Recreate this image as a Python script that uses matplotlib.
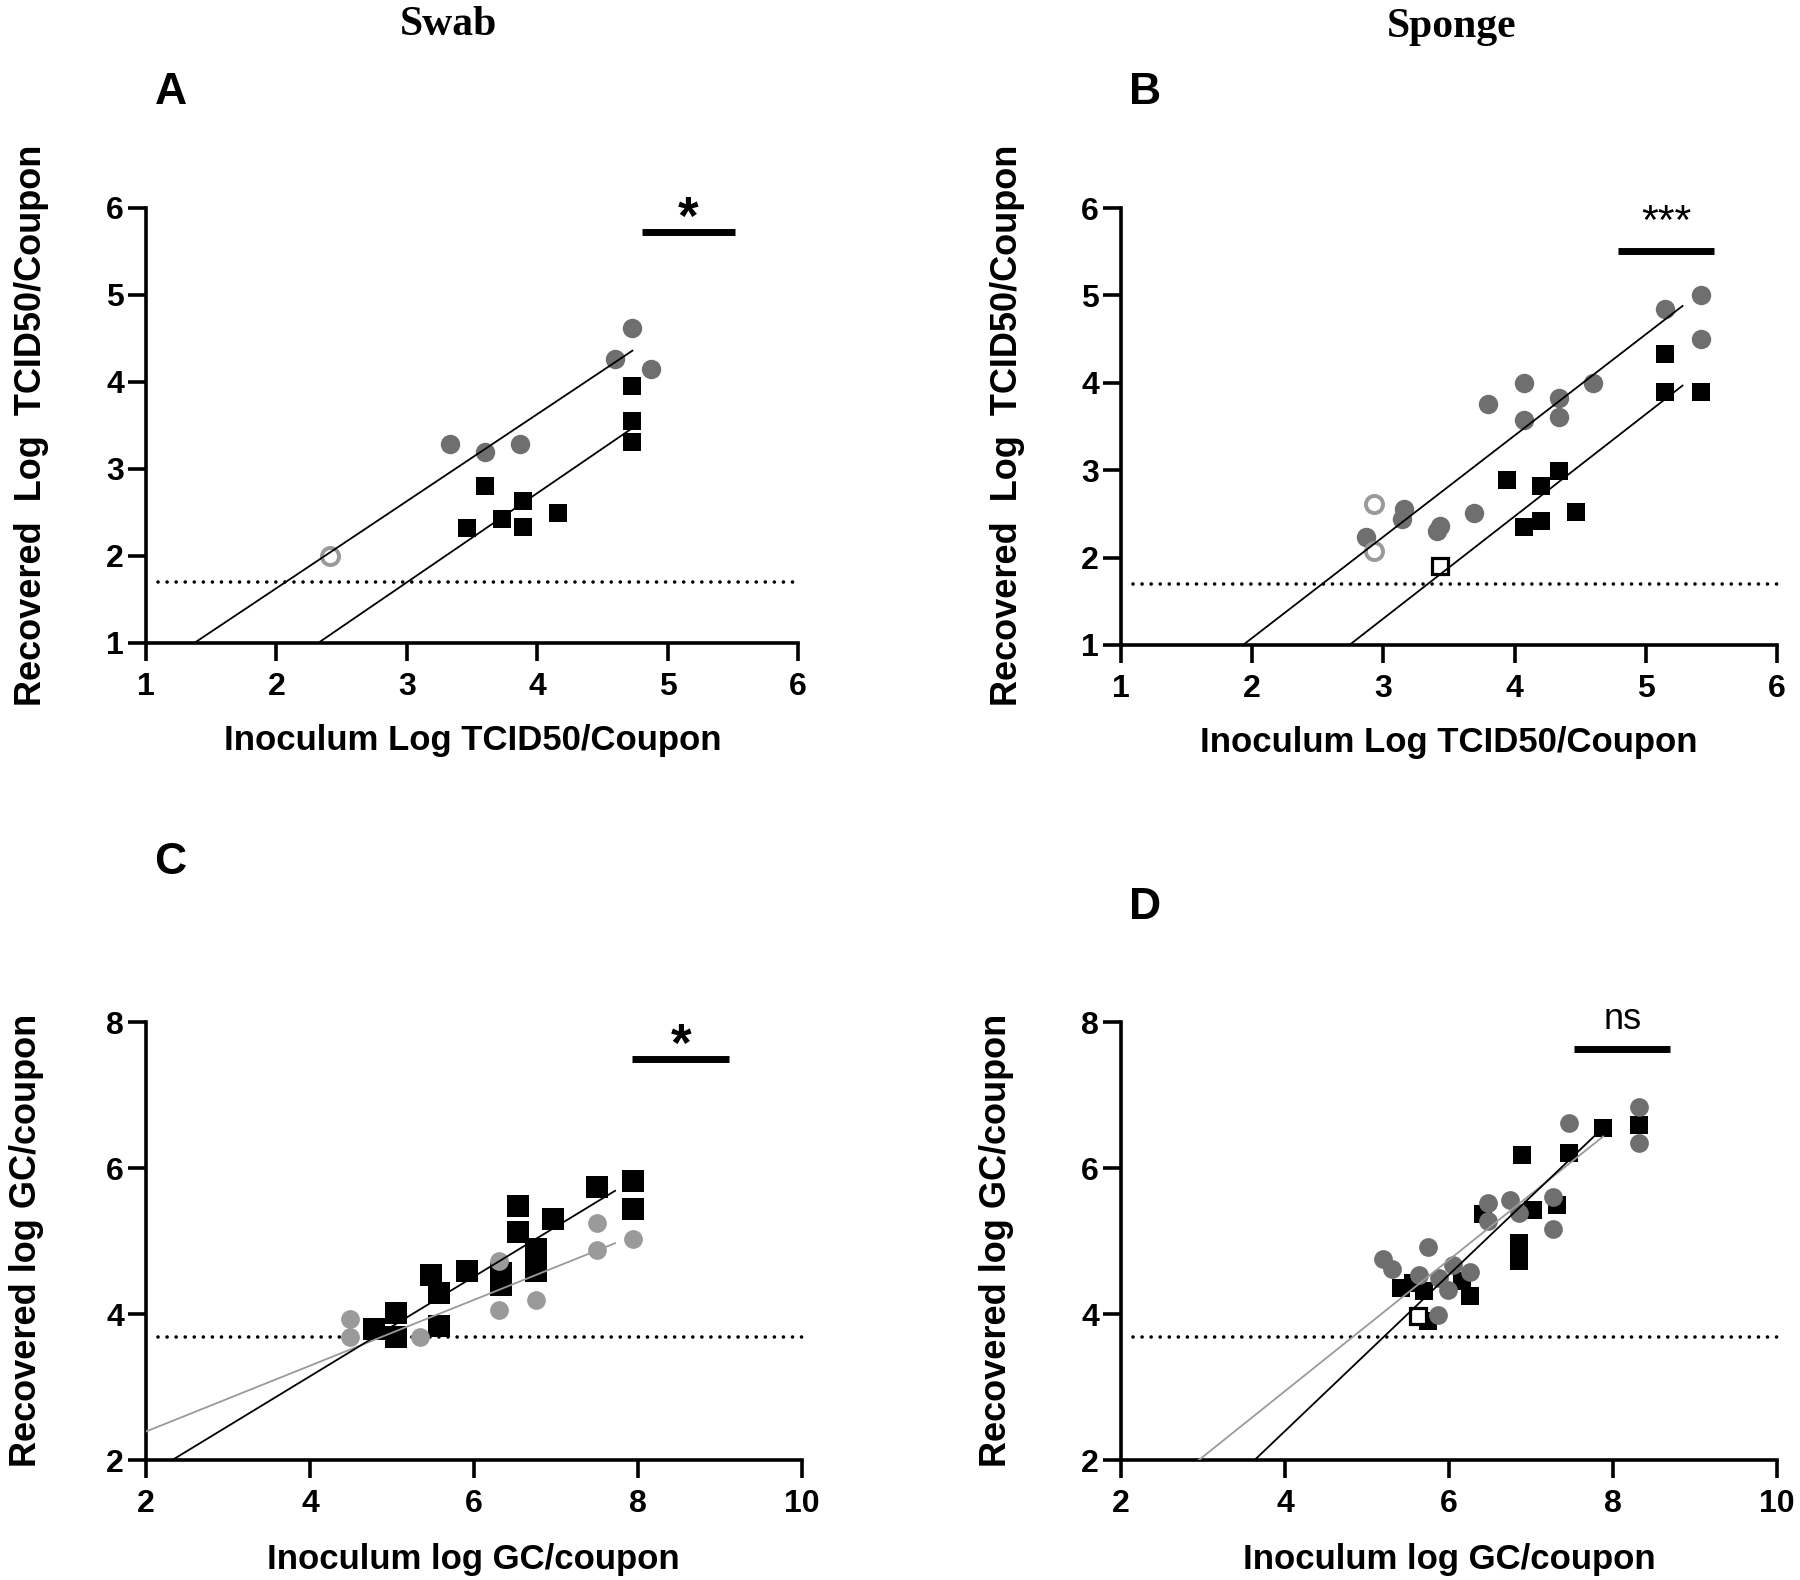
import matplotlib
matplotlib.use('Agg')
import matplotlib.pyplot as plt
import numpy as np

plt.rcParams['font.family'] = ['Liberation Sans', 'DejaVu Sans']
plt.rcParams['font.weight'] = 'bold'

# ---------------- data ----------------
# Panel A  (Swab, TCID50)
A_circle_x = [4.73, 4.60, 4.87, 3.33, 3.60, 3.87]
A_circle_y = [4.62, 4.26, 4.15, 3.29, 3.19, 3.29]
A_open_circle_x = [2.41]
A_open_circle_y = [2.00]
A_square_x = [4.73, 4.73, 4.73, 3.60, 3.89, 3.73, 3.89, 3.46, 4.16]
A_square_y = [3.95, 3.55, 3.31, 2.80, 2.63, 2.42, 2.33, 2.32, 2.49]
A_open_square_x = []
A_open_square_y = []

# Panel B  (Sponge, TCID50)
B_circle_x = [5.42, 5.15, 5.42, 4.07, 4.60, 3.80, 4.34, 4.07, 4.34, 3.16, 3.14, 3.69, 3.43, 3.41, 2.87]
B_circle_y = [5.00, 4.84, 4.50, 4.00, 4.00, 3.76, 3.83, 3.58, 3.61, 2.56, 2.44, 2.51, 2.36, 2.31, 2.23]
B_open_circle_x = [2.93, 2.93]
B_open_circle_y = [2.61, 2.07]
B_square_x = [5.15, 5.15, 5.42, 3.94, 4.34, 4.20, 4.47, 4.07, 4.20]
B_square_y = [4.33, 3.90, 3.90, 2.89, 2.99, 2.82, 2.52, 2.35, 2.42]
B_open_square_x = [3.43]
B_open_square_y = [1.90]

# Panel C  (Swab, GC)
C_circle_x = [7.50, 7.50, 7.94, 6.31, 6.31, 6.75, 4.49, 4.49, 5.34]
C_circle_y = [5.24, 4.88, 5.03, 4.72, 4.05, 4.19, 3.93, 3.68, 3.68]
C_square_x = [7.94, 7.94, 7.50, 6.54, 6.54, 6.96, 6.75, 6.75, 6.75, 6.33, 6.33, 5.91,
              5.48, 5.57, 5.57, 5.05, 5.05, 4.78]
C_square_y = [5.82, 5.44, 5.74, 5.48, 5.13, 5.30, 4.89, 4.75, 4.59, 4.56, 4.40, 4.59,
              4.54, 4.29, 3.83, 4.01, 3.69, 3.79]

# Panel D  (Sponge, GC)
D_circle_x = [8.32, 8.32, 7.46, 7.27, 7.27, 6.74, 6.85, 6.47, 6.47, 5.74, 5.19, 5.30,
              5.63, 6.05, 5.88, 6.26, 5.99, 5.86]
D_circle_y = [6.84, 6.34, 6.62, 5.60, 5.16, 5.56, 5.39, 5.52, 5.27, 4.92, 4.75, 4.61,
              4.54, 4.67, 4.50, 4.57, 4.33, 3.99]
D_square_x = [8.32, 7.88, 7.46, 6.89, 7.02, 7.32, 6.42, 6.85, 6.85, 5.42, 5.69, 6.16,
              6.26, 5.74, 5.56]
D_square_y = [6.59, 6.55, 6.20, 6.18, 5.42, 5.50, 5.37, 4.97, 4.72, 4.35, 4.32, 4.45,
              4.25, 3.90, 4.42]
D_open_square_x = [5.62]
D_open_square_y = [3.97]

# regression lines: (slope, intercept, x_end)
A_fit_circle = (1.000, -0.370, 4.73)
A_fit_square = (1.025, -1.378, 4.73)
B_fit_circle = (1.158, -1.235, 5.28)
B_fit_square = (1.169, -2.204, 5.28)
C_fit_circle = (0.451, 1.488, 7.72)
C_fit_square = (0.683, 0.415, 7.72)
D_fit_circle = (0.899, -0.652, 7.88)
D_fit_square = (1.071, -1.887, 7.88)

# limits of detection
A_lod, B_lod, C_lod, D_lod = 1.70, 1.70, 3.69, 3.69

# significance bars: (x0, x1, y_bar, label, x_text, y_text_center)
A_sig = (4.80, 5.52, 5.72, '*', 5.16, 6.05)
B_sig = (4.79, 5.52, 5.51, '***', 5.16, 5.99)
C_sig = (7.93, 9.11, 7.50, '*', 8.53, 7.88)
D_sig = (7.52, 8.69, 7.63, 'ns', 8.12, 7.91)

TCID_xticks = [1, 2, 3, 4, 5, 6]
TCID_yticks = [1, 2, 3, 4, 5, 6]
GC_xticks = [2, 4, 6, 8, 10]
GC_yticks = [2, 4, 6, 8]

# ---------------- figure ----------------
W, H = 1800, 1580
fig = plt.figure(figsize=(W / 100, H / 100), dpi=100)


def ax_at(l, r, t, b):
    return fig.add_axes([l / W, 1 - b / H, (r - l) / W, (b - t) / H])


DARK_GRAY = '#6f6f6f'
LIGHT_GRAY = '#9a9a9a'


def style(ax, xt, yt):
    ax.set_xlim(xt[0], xt[-1])
    ax.set_ylim(yt[0], yt[-1])
    ax.set_xticks(xt)
    ax.set_yticks(yt)
    for s in ['top', 'right']:
        ax.spines[s].set_visible(False)
    for s in ['left', 'bottom']:
        ax.spines[s].set_linewidth(2.6)
    ax.tick_params(axis='both', direction='out', length=13, width=2.6, labelsize=23)
    ax.tick_params(axis='x', pad=8)
    ax.tick_params(axis='y', pad=3)
    for lab in ax.get_xticklabels() + ax.get_yticklabels():
        lab.set_fontweight('bold')


def panel(ax, xt, yt, cx, cy, ocx, ocy, sx, sy, osx, osy, fitc, fits, lod, sig,
          circ_color, circ_ms, sq_ms, line_c_color, sig_fs, sig_weight):
    style(ax, xt, yt)
    ax.plot(sx, sy, 's', color='black', ms=sq_ms, mec='black', mew=0, zorder=3)
    ax.plot(cx, cy, 'o', color=circ_color, ms=circ_ms, mew=0, zorder=4)
    if len(ocx):
        ax.plot(ocx, ocy, 'o', mfc='white', mec=LIGHT_GRAY, ms=circ_ms * 0.88, mew=2.8, zorder=4)
    if len(osx):
        ax.plot(osx, osy, 's', mfc='white', mec='black', ms=sq_ms * 0.9, mew=2.3, zorder=5)
    xs = np.linspace(xt[0], fitc[2], 200)
    ax.plot(xs, fitc[0] * xs + fitc[1], '-', color=line_c_color, lw=1.3, zorder=6)
    xs = np.linspace(xt[0], fits[2], 200)
    ax.plot(xs, fits[0] * xs + fits[1], '-', color='black', lw=1.3, zorder=6)
    span = xt[-1] - xt[0]
    ax.plot([xt[0] + 0.018 * span, xt[-1] + 0.004 * span], [lod, lod],
            color='black', lw=2.6, linestyle=(0, (0.01, 2.5)), dash_capstyle='round',
            clip_on=False, zorder=2)
    x0, x1, yb, txt, xtx, ytx = sig
    ax.plot([x0, x1], [yb, yb], color='black', lw=5, solid_capstyle='butt', clip_on=False)
    if txt == 'ns':
        ax.text(xtx, ytx, txt, ha='center', va='baseline', fontsize=sig_fs,
                fontweight=sig_weight, clip_on=False)
    else:
        ax.annotate(txt, (xtx, ytx), xytext=(0, -0.58 * sig_fs), textcoords='offset points',
                    ha='center', va='baseline', fontsize=sig_fs, fontweight=sig_weight,
                    annotation_clip=False)


axA = ax_at(146, 798, 208, 643)
axB = ax_at(1121, 1777, 208, 645)
axC = ax_at(146, 802, 1022, 1460)
axD = ax_at(1121, 1777, 1022, 1460)

panel(axA, TCID_xticks, TCID_yticks, A_circle_x, A_circle_y, A_open_circle_x, A_open_circle_y,
      A_square_x, A_square_y, A_open_square_x, A_open_square_y,
      A_fit_circle, A_fit_square, A_lod, A_sig, DARK_GRAY, 14, 13.5, 'black', 38, 'bold')
panel(axB, TCID_xticks, TCID_yticks, B_circle_x, B_circle_y, B_open_circle_x, B_open_circle_y,
      B_square_x, B_square_y, B_open_square_x, B_open_square_y,
      B_fit_circle, B_fit_square, B_lod, B_sig, DARK_GRAY, 14, 13.5, 'black', 31, 'normal')
panel(axC, GC_xticks, GC_yticks, C_circle_x, C_circle_y, [], [],
      C_square_x, C_square_y, [], [],
      C_fit_circle, C_fit_square, C_lod, C_sig, LIGHT_GRAY, 13.5, 16, LIGHT_GRAY, 38, 'bold')
panel(axD, GC_xticks, GC_yticks, D_circle_x, D_circle_y, [], [],
      D_square_x, D_square_y, D_open_square_x, D_open_square_y,
      D_fit_circle, D_fit_square, D_lod, D_sig, DARK_GRAY, 13.5, 13, LIGHT_GRAY, 26, 'normal')

# ---------------- texts ----------------
def ftext(x, y, s, **kw):
    fig.text(x / W, 1 - y / H, s, **kw)

serif = ['Liberation Serif', 'DejaVu Serif']
ftext(449, 35, 'Swab', ha='center', va='baseline', fontsize=30, fontweight='bold', family=serif)
ftext(1452, 37, 'Sponge', ha='center', va='baseline', fontsize=30, fontweight='bold', family=serif)

for s, x, y in [('A', 171, 104), ('B', 1145, 104), ('C', 170, 874), ('D', 1145, 919)]:
    ftext(x, y, s, ha='center', va='baseline', fontsize=32, fontweight='bold')

ftext(473, 750, 'Inoculum Log TCID50/Coupon', ha='center', va='baseline', fontsize=25, fontweight='bold')
ftext(1449, 752, 'Inoculum Log TCID50/Coupon', ha='center', va='baseline', fontsize=25, fontweight='bold')
ftext(473, 1569, 'Inoculum log GC/coupon', ha='center', va='baseline', fontsize=25, fontweight='bold')
ftext(1449, 1569, 'Inoculum log GC/coupon', ha='center', va='baseline', fontsize=25, fontweight='bold')

for s, x, y in [('Recovered  Log  TCID50/Coupon', 41, 425),
                ('Recovered  Log  TCID50/Coupon', 1017, 425),
                ('Recovered log GC/coupon', 36, 1240),
                ('Recovered log GC/coupon', 1006, 1240)]:
    ftext(x, y, s, ha='center', va='baseline', rotation=90, rotation_mode='anchor',
          fontsize=26, fontweight='bold')

fig.savefig('out.png', dpi=100, facecolor='white')
